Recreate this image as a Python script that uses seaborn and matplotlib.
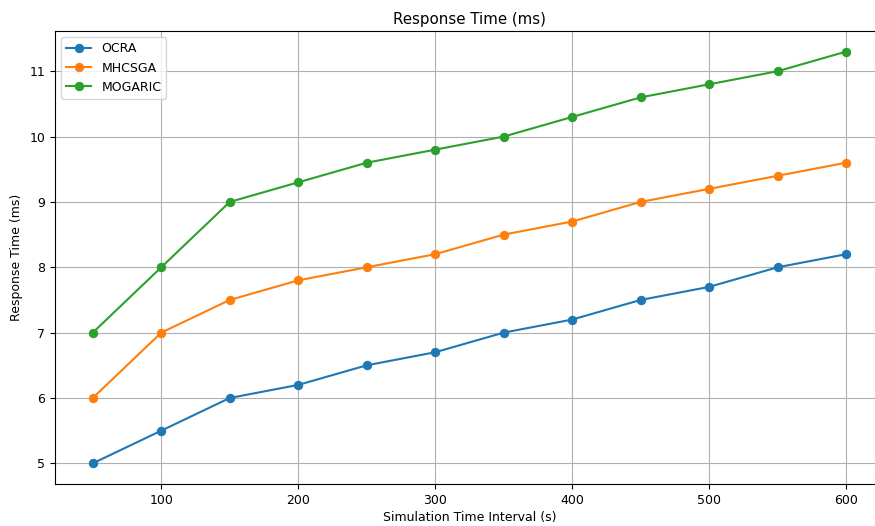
import pandas as pd
import seaborn as sns
import matplotlib
matplotlib.use("Agg")
import matplotlib.pyplot as plt

# chart data
intervals = [50, 100, 150, 200, 250, 300, 350, 400, 450, 500, 550, 600]
ocra = [5.0, 5.5, 6.0, 6.2, 6.5, 6.7, 7.0, 7.2, 7.5, 7.7, 8.0, 8.2]
mhcsga = [6.0, 7.0, 7.5, 7.8, 8.0, 8.2, 8.5, 8.7, 9.0, 9.2, 9.4, 9.6]
mogaric = [7.0, 8.0, 9.0, 9.3, 9.6, 9.8, 10.0, 10.3, 10.6, 10.8, 11.0, 11.3]
methods = ["OCRA", "MHCSGA", "MOGARIC"]

df = pd.DataFrame({"interval": intervals, "OCRA": ocra, "MHCSGA": mhcsga, "MOGARIC": mogaric})
long_df = df.melt(id_vars="interval", var_name="method", value_name="response")

fig = plt.figure(figsize=(8.75, 5.26), dpi=100)
# the original was cropped on the right, so the axes run past the edge
ax = fig.add_axes([0.063, 0.080, 0.947, 0.861])
sns.lineplot(data=long_df, x="interval", y="response", hue="method", hue_order=methods,
             palette=["#1f77b4", "#ff7f0e", "#2ca02c"], marker="o", markersize=6,
             markeredgecolor=None, linewidth=1.5, ax=ax)

ax.grid(True, color="#b0b0b0", linewidth=0.8)
ax.set_axisbelow(True)
ax.set_title("Response Time (ms)", fontsize=10.8, pad=5)
ax.set_xlabel("Simulation Time Interval (s)", fontsize=9, labelpad=3)
ax.set_ylabel("Response Time (ms)", fontsize=9, labelpad=5)
ax.tick_params(labelsize=9)
ax.legend(loc="upper left", fontsize=9)

plt.savefig("out.png", dpi=100)
